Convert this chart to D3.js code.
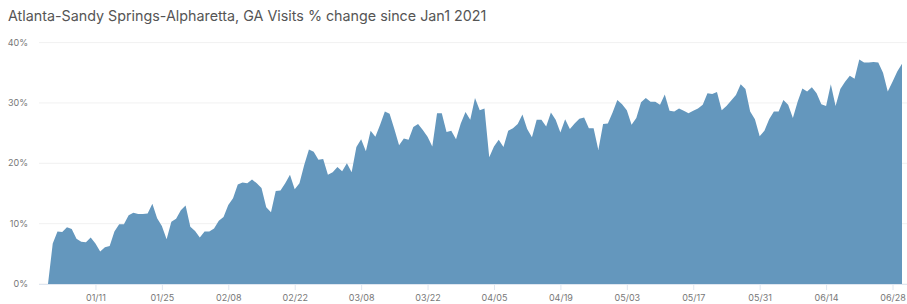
<!DOCTYPE html>
<html>
<head>
<meta charset="utf-8">
<script src="https://cdn.jsdelivr.net/npm/d3@7"></script>
<style>
  body { margin: 0; background: #fff; }
  text { font-family: Inter, "Open Sans", sans-serif; }
</style>
</head>
<body>
<svg id="chart" width="907" height="304"></svg>
<script>
// visits % change since Jan 1 2021, one value per day (Jan 1 .. Jun 30)
const startDate = '2021-01-01'
const values = [
  0, 6.7, 8.7, 8.6, 9.4, 9.1, 7.5, 7.0, 6.9, 7.7,
  6.7, 5.4, 6.1, 6.3, 8.7, 9.9, 9.9, 11.4, 11.8, 11.6,
  11.6, 11.7, 13.3, 10.9, 9.6, 7.4, 10.3, 10.8, 12.2, 13.0,
  9.5, 8.8, 7.7, 8.7, 8.7, 9.2, 10.5, 11.1, 13.1, 14.2,
  16.5, 16.8, 16.7, 17.3, 16.7, 15.9, 12.7, 11.9, 15.4, 15.5,
  16.7, 18.1, 15.7, 16.7, 19.7, 22.3, 21.9, 20.6, 20.7, 18.1,
  18.5, 19.4, 18.7, 20.0, 18.5, 22.7, 24.0, 22.0, 25.4, 24.4,
  26.4, 28.6, 28.2, 25.7, 23.0, 24.1, 23.9, 26.0, 26.5, 25.5,
  24.4, 22.8, 28.3, 28.3, 25.2, 25.4, 24.0, 26.6, 28.5, 27.2,
  30.8, 28.8, 29.1, 21.0, 22.8, 23.9, 22.7, 25.4, 25.8, 26.5,
  28.1, 25.7, 24.3, 27.2, 27.2, 26.1, 28.4, 27.2, 25.1, 27.3,
  25.7, 26.6, 27.4, 27.6, 25.8, 25.8, 22.2, 26.5, 26.6, 28.4,
  30.5, 29.8, 28.8, 26.4, 27.5, 30.1, 30.8, 30.2, 30.2, 29.7,
  31.4, 28.7, 28.6, 29.1, 28.7, 28.3, 28.7, 29.1, 29.7, 31.6,
  31.5, 31.8, 28.8, 29.5, 30.4, 31.3, 33.1, 32.3, 28.6, 27.3,
  24.5, 25.4, 27.3, 28.6, 28.6, 30.5, 29.7, 27.5, 30.2, 32.4,
  31.9, 32.6, 31.6, 29.8, 29.5, 33.1, 29.5, 32.3, 33.5, 34.5,
  34.0, 37.2, 36.7, 36.7, 36.8, 36.7, 35.0, 31.9, 33.5, 35.2,
  36.5
]
const yTicks = [0, 10, 20, 30, 40]
const xTicks = ['2021-01-11', '2021-01-25', '2021-02-08', '2021-02-22', '2021-03-08',
  '2021-03-22', '2021-04-05', '2021-04-19', '2021-05-03', '2021-05-17',
  '2021-05-31', '2021-06-14', '2021-06-28']
const title = 'Atlanta-Sandy Springs-Alpharetta, GA Visits % change since Jan1 2021'

const parse = d3.utcParse('%Y-%m-%d')
const start = parse(startDate)
const data = values.map((v, i) => ({ date: d3.utcDay.offset(start, i), value: v }))

const svg = d3.select('#chart')

const x = d3.scaleUtc()
  .domain([data[0].date, data[data.length - 1].date])
  .range([48, 902])

const y = d3.scaleLinear()
  .domain([0, 40])
  .range([284, 42.6])

svg.append('text')
  .attr('x', 8)
  .attr('y', 21)
  .attr('fill', '#555')
  .style('font-size', '14.3px')
  .text(title)

// gridlines
svg.append('g')
  .selectAll('line')
  .data(yTicks)
  .join('line')
  .attr('x1', 39)
  .attr('x2', 907)
  .attr('y1', d => y(d))
  .attr('y2', d => y(d))
  .attr('stroke', '#f1f1f1')

// y labels
svg.append('g')
  .selectAll('text')
  .data(yTicks)
  .join('text')
  .attr('x', 28)
  .attr('y', d => y(d) + 3)
  .attr('text-anchor', 'end')
  .attr('fill', '#777')
  .style('font-size', '9px')
  .text(d => d + '%')

const area = d3.area()
  .x(d => x(d.date))
  .y0(y(0))
  .y1(d => y(d.value))

svg.append('path')
  .datum(data)
  .attr('d', area)
  .attr('fill', '#6497bd')

// x axis
const xAxis = svg.append('g')
  .attr('transform', `translate(0, ${y(0)})`)
  .call(d3.axisBottom(x)
    .tickValues(xTicks.map(parse))
    .tickFormat(d3.utcFormat('%m/%d'))
    .tickSize(6)
    .tickPadding(5))

xAxis.select('.domain')
  .attr('d', `M39,0.5H907`)
  .attr('stroke', '#dfe6f0')
xAxis.selectAll('.tick line').attr('stroke', '#dfe6f0')
xAxis.selectAll('.tick text')
  .attr('fill', '#777')
  .style('font-size', '9px')
  .style('font-family', 'Inter, "Open Sans", sans-serif')
</script>
</body>
</html>
